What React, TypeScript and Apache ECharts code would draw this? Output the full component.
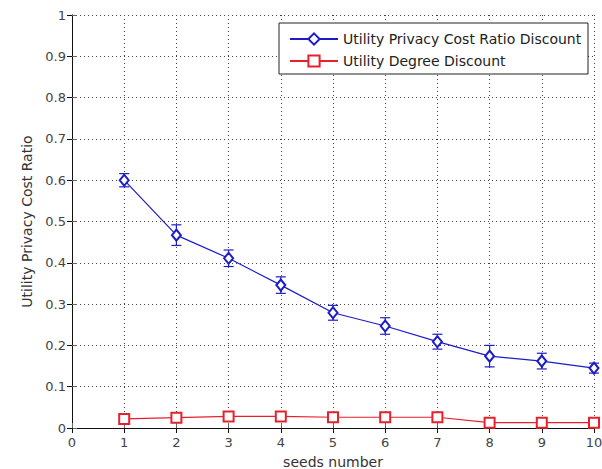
import React, { useEffect, useRef } from "react";
import * as echarts from "echarts";

const seeds = [1, 2, 3, 4, 5, 6, 7, 8, 9, 10];
const ratioDiscount = [0.6, 0.467, 0.411, 0.346, 0.279, 0.247, 0.209, 0.174, 0.162, 0.145];
const ratioDiscountErr = [0.016, 0.025, 0.02, 0.02, 0.018, 0.02, 0.018, 0.026, 0.019, 0.012];
const degreeDiscount = [0.022, 0.025, 0.028, 0.028, 0.026, 0.026, 0.026, 0.013, 0.013, 0.013];
const degreeDiscountErr = [0.008, 0.008, 0.008, 0.008, 0.008, 0.008, 0.008, 0.006, 0.006, 0.006];
const seriesNames = ["Utility Privacy Cost Ratio Discount", "Utility Degree Discount"];
const xTitle = "seeds number";
const yTitle = "Utility Privacy Cost Ratio";

const BLUE = "#1c1cc8";
const RED = "#e8202c";
const FONT = "DejaVu Sans";

function errorBars(values: number[], errs: number[], color: string) {
  return {
    type: "custom",
    silent: true,
    z: 3,
    data: seeds.map((s, i) => [s, values[i] - errs[i], values[i] + errs[i]]),
    renderItem: (params: any, api: any) => {
      const x = api.value(0);
      const lo = api.coord([x, api.value(1)]);
      const hi = api.coord([x, api.value(2)]);
      const w = 5;
      return {
        type: "group",
        children: [
          { type: "line", shape: { x1: lo[0], y1: lo[1], x2: hi[0], y2: hi[1] }, style: { stroke: color, lineWidth: 1.2 } },
          { type: "line", shape: { x1: lo[0] - w, y1: lo[1], x2: lo[0] + w, y2: lo[1] }, style: { stroke: color, lineWidth: 1.2 } },
          { type: "line", shape: { x1: hi[0] - w, y1: hi[1], x2: hi[0] + w, y2: hi[1] }, style: { stroke: color, lineWidth: 1.2 } },
        ],
      };
    },
  };
}

export default function App() {
  const ref = useRef<HTMLDivElement>(null);
  useEffect(() => {
    if (!ref.current) return;
    const chart = echarts.init(ref.current, undefined, { renderer: "svg" });
    const grid = { left: 72, top: 15, width: 522, height: 413, outerBoundsMode: "none", containLabel: false };
    const splitLine = { show: true, lineStyle: { color: "#444", type: [1, 3], width: 1 } };
    chart.setOption({
      animation: false,
      backgroundColor: "#fff",
      grid,
      graphic: [
        {
          type: "rect",
          z: 100,
          shape: { x: 279, y: 23, width: 309, height: 51 },
          style: { fill: "#fff", stroke: "#222", lineWidth: 1 },
        },
      ],
      legend: {
        z: 101,
        orient: "vertical",
        left: 289,
        top: 32,
        padding: 0,
        itemWidth: 48,
        itemHeight: 14,
        itemGap: 8,
        data: seriesNames,
        textStyle: { fontFamily: FONT, fontSize: 14, color: "#222" },
      },
      xAxis: [
        {
          type: "value",
          min: 0,
          max: 10,
          interval: 1,
          name: xTitle,
          nameLocation: "middle",
          nameGap: 27,
          nameTextStyle: { fontFamily: FONT, fontSize: 14, color: "#333" },
          axisLine: { lineStyle: { color: "#666", width: 1 } },
          axisTick: { inside: true, length: 5, lineStyle: { color: "#666" } },
          axisLabel: { fontFamily: FONT, fontSize: 13, color: "#444", margin: 8 },
          splitLine,
        },
        {
          type: "value",
          position: "top",
          min: 0,
          max: 10,
          interval: 1,
          axisLine: { lineStyle: { color: "#111", width: 1 } },
          axisTick: { inside: true, length: 5, lineStyle: { color: "#111" } },
          axisLabel: { show: false },
          splitLine: { show: false },
        },
      ],
      yAxis: [
        {
          type: "value",
          min: 0,
          max: 1,
          interval: 0.1,
          name: yTitle,
          nameLocation: "middle",
          nameGap: 35,
          nameTextStyle: { fontFamily: FONT, fontSize: 14, color: "#333" },
          axisLine: { lineStyle: { color: "#666", width: 1 } },
          axisTick: { inside: true, length: 5, lineStyle: { color: "#666" } },
          axisLabel: {
            fontFamily: FONT,
            fontSize: 13,
            color: "#444",
            margin: 6,
            formatter: (v: number) => (v === 0 ? "0" : v === 1 ? "1" : v.toFixed(1)),
          },
          splitLine,
        },
        {
          type: "value",
          position: "right",
          min: 0,
          max: 1,
          interval: 0.1,
          axisLine: { lineStyle: { color: "#111", width: 1 } },
          axisTick: { inside: true, length: 5, lineStyle: { color: "#111" } },
          axisLabel: { show: false },
          splitLine: { show: false },
        },
      ],
      series: [
        {
          name: seriesNames[0],
          type: "line",
          data: seeds.map((s, i) => [s, ratioDiscount[i]]),
          symbol: "emptyDiamond",
          symbolSize: [9, 11],
          lineStyle: { color: BLUE, width: 1.2 },
          itemStyle: { color: BLUE, borderWidth: 1.2 },
          z: 4,
        },
        {
          name: seriesNames[1],
          type: "line",
          data: seeds.map((s, i) => [s, degreeDiscount[i]]),
          symbol: "emptyRect",
          symbolSize: 10,
          lineStyle: { color: RED, width: 1.2 },
          itemStyle: { color: RED, borderWidth: 1.2 },
          z: 4,
        },
        errorBars(ratioDiscount, ratioDiscountErr, BLUE),
        errorBars(degreeDiscount, degreeDiscountErr, RED),
      ],
    });
    return () => chart.dispose();
  }, []);
  return <div ref={ref} style={{ position: "absolute", left: 0, top: 0, width: 602, height: 469 }} />;
}
